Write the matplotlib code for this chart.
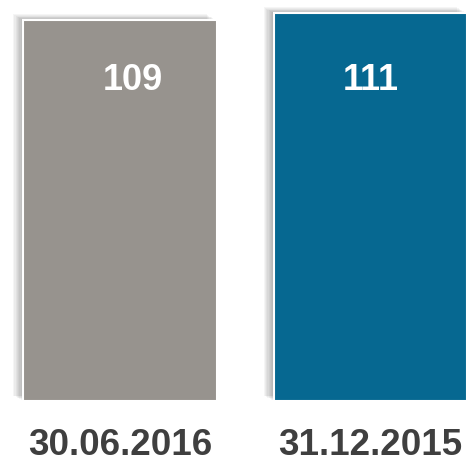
import matplotlib
matplotlib.use("Agg")
import matplotlib.pyplot as plt
import matplotlib.patheffects as pe
import numpy as np

# data
dates = ["30.06.2016", "31.12.2015"]
values = [109, 111]
bar_colors = ["#97938e", "#066891"]

plt.rcParams['font.family'] = ['Liberation Sans', 'DejaVu Sans']

fig = plt.figure(figsize=(4.69, 4.64), dpi=100)
fig.patch.set_facecolor("white")
ax = fig.add_axes([0, 0, 1, 1])
ax.set_facecolor("white")

x = np.arange(len(values))

# soft blurred-looking shadow, left/up of each bar
shadow = []
for k in range(1, 9):
    shadow.append(pe.SimplePatchShadow(offset=(-k * 0.9, k * 0.5),
                                       shadow_rgbFace="black", alpha=0.04))
shadow.append(pe.Normal())

bars = ax.bar(x, values, width=0.774, color=bar_colors,
              edgecolor="white", linewidth=1.5)
for b in bars:
    b.set_path_effects(shadow)

# value labels near the top of each bar (same height for both)
label_dx = [0.052, 0.0]
for xi, v, dx in zip(x, values, label_dx):
    ax.text(xi + dx, 89.3, str(v), ha="center", va="baseline",
            color="white", fontsize=26, fontweight="bold")

# date labels below
for xi, d in zip(x, dates):
    ax.text(xi, -17.4, d, ha="center", va="bottom",
            color="#3f3f3f", fontsize=26.5, fontweight="bold")

ax.set_xlim(-0.479, 1.393)
ax.set_ylim(-17.7, 115)
ax.axis("off")

fig.savefig("out.png", dpi=100)
